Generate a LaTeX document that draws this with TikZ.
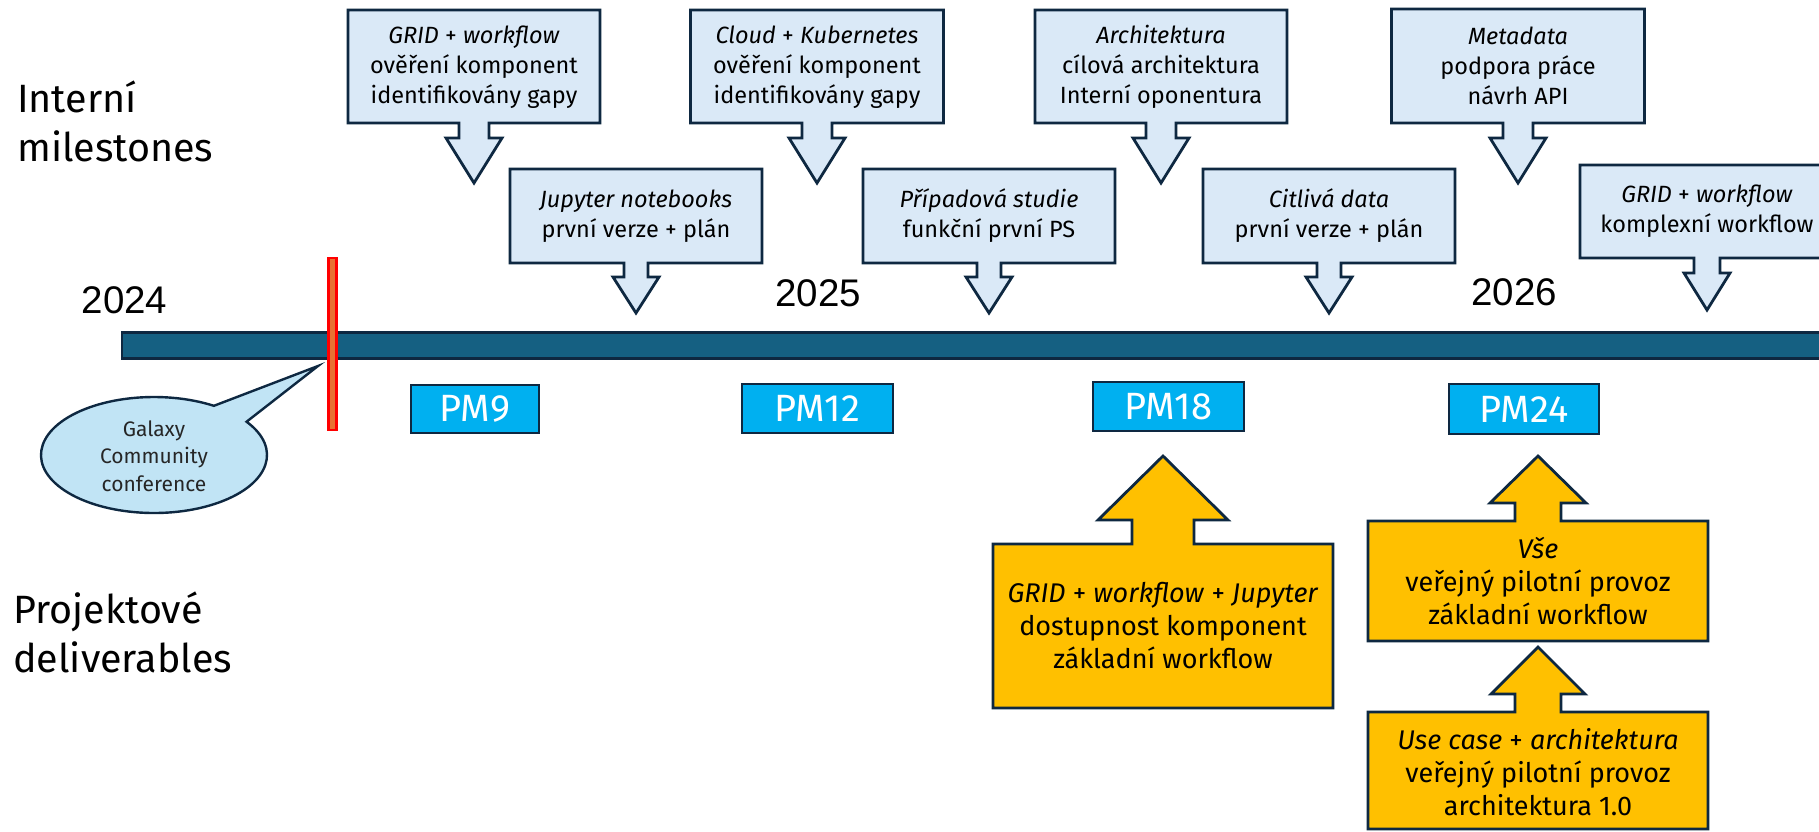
\documentclass[tikz,border=0pt]{standalone}
\usepackage{fontspec}
\setmainfont{Fira Sans}
\newfontfamily\yearfont{Liberation Sans}
\definecolor{boxblue}{HTML}{DAE9F7}
\definecolor{navy}{HTML}{0E2841}
\definecolor{barblue}{HTML}{156082}
\definecolor{delyellow}{HTML}{FFC000}
\definecolor{pmcyan}{HTML}{00B0F0}
\definecolor{bubble}{HTML}{C1E4F5}
\definecolor{redline}{HTML}{FF0000}
\definecolor{orangefill}{HTML}{E97132}
\newcommand\dcall[8]{\draw[blubox] ({#1-#2},#3) -- ({#1+#2},#3) -- ({#1+#2},#4) -- ({#1+#7},#4) -- ({#1+#7},#5) -- ({#1+#8},#5) -- (#1,#6) -- ({#1-#8},#5) -- ({#1-#7},#5) -- ({#1-#7},#4) -- ({#1-#2},#4) -- cycle;}
\newcommand\ucall[8]{\draw[yelbox] ({#1-#2},#4) -- ({#1+#2},#4) -- ({#1+#2},#3) -- ({#1+#7},#3) -- ({#1+#7},#5) -- ({#1+#8},#5) -- (#1,#6) -- ({#1-#8},#5) -- ({#1-#7},#5) -- ({#1-#7},#3) -- ({#1-#2},#3) -- cycle;}
\begin{document}
\begin{tikzpicture}[x=1pt,y=-1pt,
  blubox/.style={fill=boxblue,draw=navy,line width=2.8pt,line join=miter},
  yelbox/.style={fill=delyellow,draw=navy,line width=2.8pt,line join=miter},
  mtxt/.style={align=center,inner sep=0pt,font=\fontsize{23.5}{30}\selectfont},
  dtxt/.style={align=center,inner sep=0pt,font=\fontsize{27}{33}\selectfont},
  pmbox/.style={fill=pmcyan,draw=navy,line width=2.8pt,inner sep=0pt,text=white,font=\fontsize{38}{40}\selectfont},
  lbl/.style={anchor=base west,inner sep=0pt,font=\fontsize{39.5}{40}\selectfont},
  yr/.style={anchor=base,inner sep=0pt,font=\yearfont\fontsize{38.5}{40}\selectfont}]
\useasboundingbox (0,0) rectangle (1819,831);
\clip (0,0) rectangle (1819,831);
\fill[white] (0,0) rectangle (1819,831);

% side labels
\node[lbl] (l1) at (17,112) {Interní};
\node[lbl] (l2) at (17,161) {milestones};
\node[lbl] (l3) at (13,623) {Projektové};
\node[lbl] (l4) at (13,672) {deliverables};

% years
\node[yr] (y24) at (124.5,313) {2024};
\node[yr] (y25) at (818,306) {2025};
\node[yr] (y26) at (1514,305) {2026};

% timeline
\draw[fill=barblue,draw=navy,line width=2.2pt] (122,332.5) rectangle (1830,358.5);
\draw[fill=orangefill,draw=redline,line width=2.6pt] (328.5,258) rectangle (336.5,430);

% galaxy bubble
\draw[fill=bubble,draw=navy,line width=2.4pt,line join=miter] (318,366) -- ({154+113*cos(35)},{455-58*sin(35)}) arc[start angle=-35,end angle=302,x radius=113,y radius=58] -- cycle;
\node[align=center,inner sep=0pt,font=\fontsize{21}{27.5}\selectfont,text=black!85] (gal) at (154,456) {Galaxy\\Community\\conference};

% internal milestones
\dcall{474}{126}{10}{123}{138}{183}{15}{28}
\node[mtxt] (m1) at (474,67) {\textit{GRID} + \textit{workflow}\\ověření komponent\\identifikovány gapy};
\dcall{636}{126}{169}{263}{277}{313}{12}{23}
\node[mtxt] (m2) at (636,216) {\textit{Jupyter notebooks}\\první verze + plán};
\dcall{817}{126.5}{10}{123}{138}{183}{15}{28}
\node[mtxt] (m3) at (817,67) {\textit{Cloud} + \textit{Kubernetes}\\ověření komponent\\identifikovány gapy};
\dcall{989}{126}{169}{263}{277}{313}{12}{23}
\node[mtxt] (m4) at (989,216) {\textit{Případová studie}\\funkční první PS};
\dcall{1161}{126}{10}{123}{138}{183}{15}{28}
\node[mtxt] (m5) at (1161,67) {\textit{Architektura}\\cílová architektura\\Interní oponentura};
\dcall{1329}{126}{169}{263}{277}{313}{12}{23}
\node[mtxt] (m6) at (1329,216) {\textit{Citlivá data}\\první verze + plán};
\dcall{1518}{126.5}{9}{123}{138}{183}{15}{28}
\node[mtxt] (m7) at (1518,66) {\textit{Metadata}\\podpora práce\\návrh API};
\dcall{1707}{127}{165}{258}{273}{310}{13}{23}
\node[mtxt] (m8) at (1707,211.5) {\textit{GRID} + \textit{workflow}\\komplexní workflow};

% PM boxes
\node[pmbox,minimum width=128pt,minimum height=48pt] (pm9) at (475,409) {PM9};
\node[pmbox,minimum width=151pt,minimum height=49pt] (pm12) at (817.5,408.5) {PM12};
\node[pmbox,minimum width=151pt,minimum height=49pt] (pm18) at (1168.5,406.5) {PM18};
\node[pmbox,minimum width=150pt,minimum height=50pt] (pm24) at (1524,409) {PM24};

% deliverables
\ucall{1163}{170}{544}{708}{520}{456}{31}{65}
\node[dtxt] (d1) at (1163,626) {\textit{GRID} + \textit{workflow} + \textit{Jupyter}\\dostupnost komponent\\základní workflow};
\ucall{1538}{170}{521}{641}{503}{456}{23}{48}
\node[dtxt] (d2) at (1538,581) {\textit{Vše}\\veřejný pilotní provoz\\základní workflow};
\ucall{1538}{170}{712}{829}{694}{647}{23}{47}
\node[dtxt] (d3) at (1538,772) {\textit{Use case} + \textit{architektura}\\veřejný pilotní provoz\\architektura 1.0};
\end{tikzpicture}
\end{document}
